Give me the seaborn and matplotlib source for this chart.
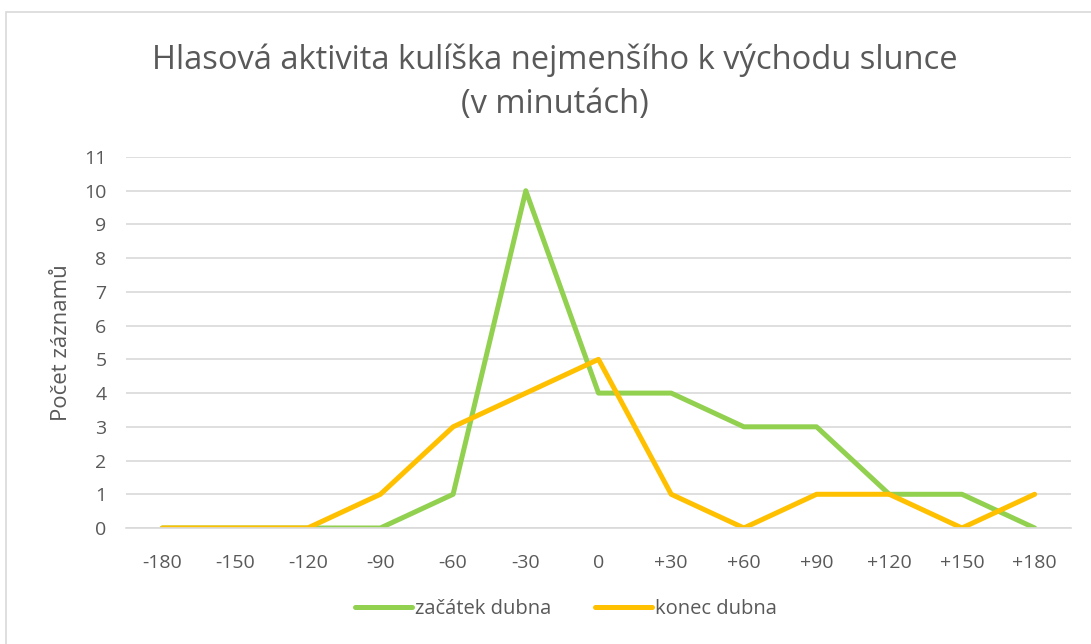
import pandas as pd
import seaborn as sns
import matplotlib.pyplot as plt
from matplotlib.patches import Rectangle

# data
categories = ['-180', '-150', '-120', '-90', '-60', '-30', '0',
              '+30', '+60', '+90', '+120', '+150', '+180']
zacatek_dubna = [0, 0, 0, 0, 1, 10, 4, 4, 3, 3, 1, 1, 0]
konec_dubna = [0, 0, 0, 1, 3, 4, 5, 1, 0, 1, 1, 0, 1]

series_names = ['začátek dubna', 'konec dubna']
colors = ['#92D050', '#FFC000']

df = pd.DataFrame({
    'cas': categories * 2,
    'pocet': zacatek_dubna + konec_dubna,
    'serie': [series_names[0]] * len(categories) + [series_names[1]] * len(categories),
})
df['x'] = list(range(len(categories))) * 2

sns.set_style('white')
plt.rcParams['font.family'] = ['Open Sans', 'DejaVu Sans']
text_color = '#595959'
grid_color = '#D9D9D9'

fig = plt.figure(figsize=(10.91, 6.44), dpi=100)
ax = fig.add_axes([126 / 1091, 1 - 528 / 644, 945 / 1091, 371 / 644])

# chart border
fig.patches.append(Rectangle((6 / 1091, -0.1), 1.2, 1 - 12 / 644 + 0.1,
                             transform=fig.transFigure, fill=False,
                             edgecolor=grid_color, linewidth=1.2))

sns.lineplot(data=df, x='x', y='pocet', hue='serie', palette=colors,
             linewidth=3.6, ax=ax, legend=False, solid_capstyle='round')

ax.set_xlim(-0.5, len(categories) - 0.5)
ax.set_ylim(0, 11)
ax.set_yticks(range(0, 12))
ax.set_xticks(range(len(categories)))
ax.set_xticklabels(categories)
ax.yaxis.grid(True, color=grid_color, linewidth=1.2)
ax.set_axisbelow(True)
for side in ['top', 'right', 'left']:
    ax.spines[side].set_visible(False)
ax.spines['bottom'].set_color(grid_color)
ax.spines['bottom'].set_linewidth(1.2)
ax.tick_params(axis='both', length=0, labelsize=14, colors=text_color)
ax.tick_params(axis='x', pad=19)
ax.tick_params(axis='y', pad=14)
ax.set_xlabel('')
ax.set_ylabel('Počet záznamů', fontsize=16, color=text_color, labelpad=9)

fig.text(555 / 1091, 1 - 82 / 644,
         'Hlasová aktivita kulíška nejmenšího k východu slunce\n(v minutách)',
         ha='center', va='center', fontsize=23.5, color=text_color, linespacing=1.45)

handles = [plt.Line2D([], [], color=c, linewidth=3.6, solid_capstyle='round') for c in colors]
fig.legend(handles, series_names, loc='center', bbox_to_anchor=(566 / 1091, 1 - 609 / 644),
           ncol=2, frameon=False, fontsize=14.5, labelcolor=text_color,
           handlelength=2.8, handletextpad=0.15, columnspacing=2.2)

fig.savefig('out.png', dpi=100)
